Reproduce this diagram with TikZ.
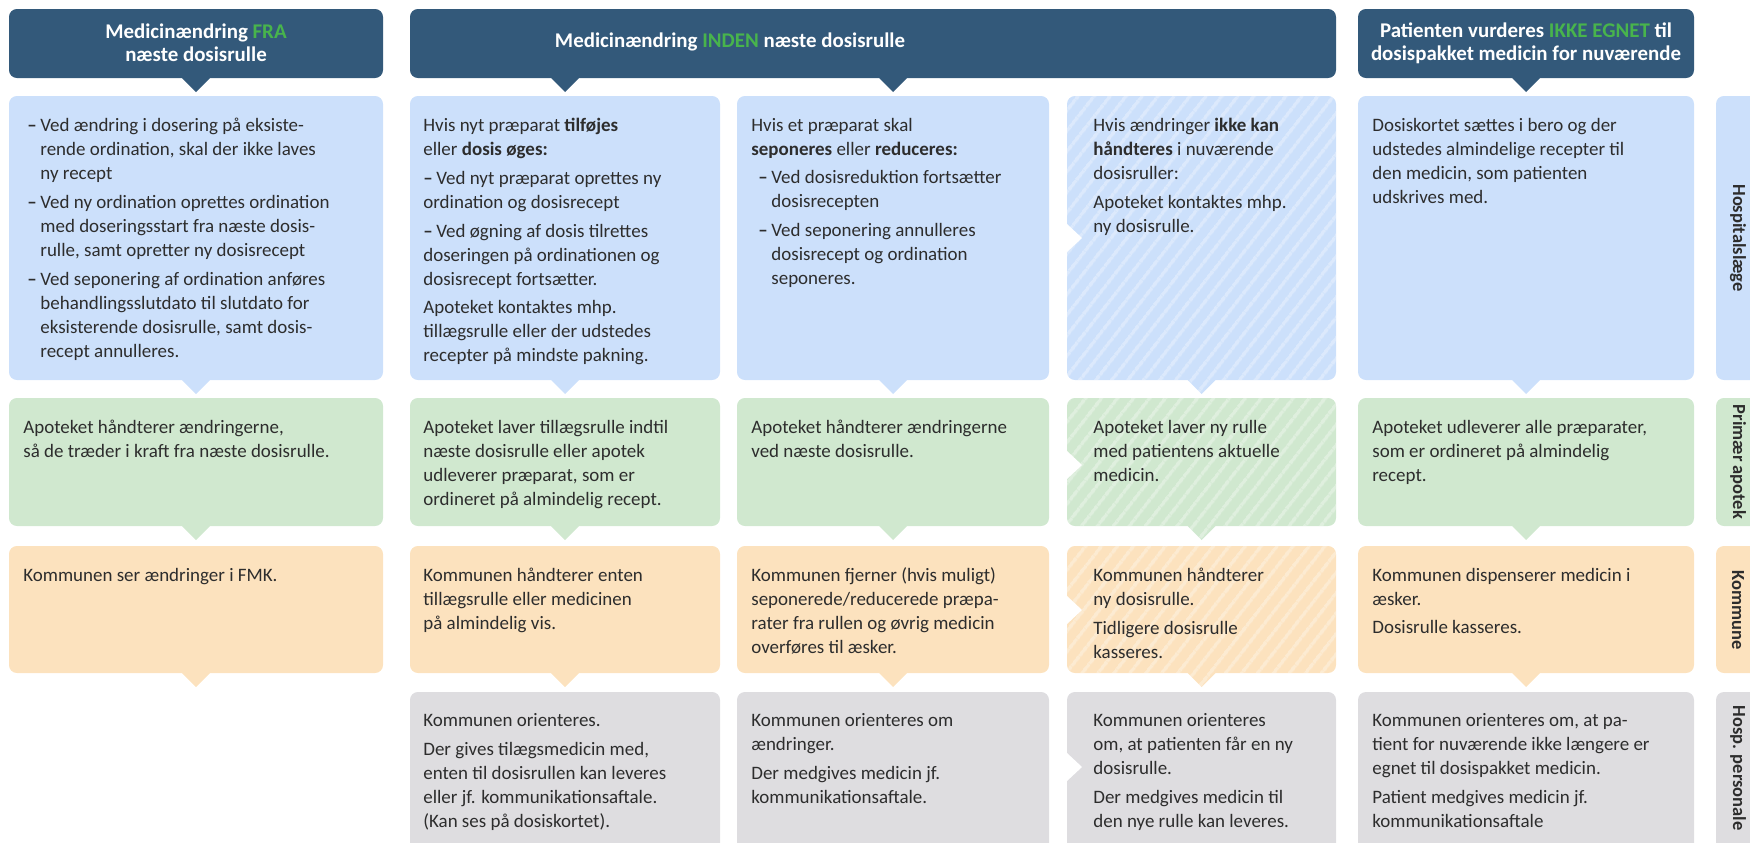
\documentclass[tikz,border=0pt]{standalone}
\usepackage{fontspec}
\setmainfont{Carlito}
\usetikzlibrary{patterns.meta}

\definecolor{hdrcol}{RGB}{51,89,122}
\definecolor{accent}{RGB}{72,180,76}
\definecolor{cblue}{RGB}{204,224,251}
\definecolor{cgreen}{RGB}{208,232,207}
\definecolor{corange}{RGB}{252,226,190}
\definecolor{cgrey}{RGB}{222,221,224}
\definecolor{txtcol}{RGB}{45,45,45}

\newcommand{\bodyfont}{\fontsize{10.8pt}{13.66pt}\selectfont}
\newcommand{\hl}[1]{\textcolor{accent}{#1}}
\newcommand{\dsh}{\makebox[7.4pt][l]{\textbf{–}}}

\tikzset{
  txt/.style={anchor=north west,inner sep=0pt,align=left,font=\bodyfont,text=txtcol},
  hdrtxt/.style={inner sep=0pt,align=center,font=\bfseries\fontsize{11.9pt}{13.1pt}\selectfont,text=white},
  labtxt/.style={inner sep=0pt,rotate=-90,font=\bfseries\fontsize{10.5pt}{12pt}\selectfont,text=txtcol},
  hatch/.style={pattern={Lines[angle=52,distance=7.4pt,line width=2pt]},pattern color=white,fill opacity=0.32}
}

\begin{document}
\begin{tikzpicture}[x=0.02cm,y=-0.02cm]
\useasboundingbox (0,0) rectangle (1750,842);
\clip (0,0) rectangle (1750,842);
% headers
\fill[hdrcol,rounded corners=4.5pt] (9,9) rectangle (383,78)
  [sharp corners] (182,78) -- (196,92) -- (210,78) -- cycle;
\fill[hdrcol,rounded corners=4.5pt] (410,9) rectangle (1336,78)
  [sharp corners] (551,78) -- (565,92) -- (579,78) -- cycle
  (879,78) -- (893,92) -- (907,78) -- cycle;
\fill[hdrcol,rounded corners=4.5pt] (1358,9) rectangle (1694,78)
  [sharp corners] (1512,78) -- (1526,92) -- (1540,78) -- cycle;
\node[hdrtxt] (h1) at (196,43) {Medicinændring \hl{FRA}\\næste dosisrulle};
\node[hdrtxt] (h2) at (730,42) {Medicinændring \hl{INDEN} næste dosisrulle};
\node[hdrtxt] (h3) at (1526,43) {Patienten vurderes \hl{IKKE EGNET} til\\dosispakket medicin for nuværende};
% boxes
\foreach \xa/\xb in {9/383,410/720,737/1049,1067/1336,1358/1694}
  \foreach \ya/\yb/\cl in {96/380/cblue,398/526/cgreen,546/673/corange}
    \fill[\cl,rounded corners=4.5pt] (\xa,\ya) rectangle (\xb,\yb)
      [sharp corners] ({(\xa+\xb)/2-14},\yb) -- ({(\xa+\xb)/2},\yb+14) -- ({(\xa+\xb)/2+14},\yb) -- cycle;
\foreach \xa/\xb in {410/720,737/1049,1067/1336,1358/1694}
  \fill[cgrey,rounded corners=4.5pt] (\xa,692) rectangle (\xb,870);
\foreach \ya/\yb in {96/380,398/526,546/673}
  \fill[hatch,rounded corners=4.5pt] (1067,\ya) rectangle (1336,\yb)
    [sharp corners] (1187,\yb) -- (1201,\yb+14) -- (1215,\yb) -- cycle;
\foreach \yc in {238,465,610,767}
  \fill[white] (1055,\yc-14) -- (1067,\yc-14) -- (1082,\yc) -- (1067,\yc+14) -- (1055,\yc+14) -- cycle;
% row labels
\foreach \ya/\yb/\yc/\cl/\tx [count=\i] in {96/380/238/cblue/Hospitalslæge,398/526/462/cgreen/Primær apotek,
    546/673/610/corange/Kommune,692/870/768/cgrey/Hosp. personale}{
  \fill[\cl,rounded corners=4.5pt] (1716,\ya) rectangle (1790,\yb);
  \node[labtxt] (lab\i) at (1738,\yc) {\tx};
}
% Hospitalslæge
\node[txt] (hosp1) at (23,117.5) {\hspace*{2.3pt}\dsh Ved ændring i dosering på eksiste-\\
  \hspace*{9.7pt}rende ordination, skal der ikke laves\\
  \hspace*{9.7pt}ny recept\\[2.8pt]
  \hspace*{2.3pt}\dsh Ved ny ordination oprettes ordination\\
  \hspace*{9.7pt}med doseringsstart fra næste dosis-\\
  \hspace*{9.7pt}rulle, samt opretter ny dosisrecept\\[2.8pt]
  \hspace*{2.3pt}\dsh Ved seponering af ordination anføres\\
  \hspace*{9.7pt}behandlingsslutdato til slutdato for\\
  \hspace*{9.7pt}eksisterende dosisrulle, samt dosis-\\
  \hspace*{9.7pt}recept annulleres.};
\node[txt] (hosp2) at (423,117.5) {Hvis nyt præparat \textbf{tilføjes}\\
  eller \textbf{dosis øges:}\\[2.8pt]
  \dsh Ved nyt præparat oprettes ny\\
  ordination og dosisrecept\\[2.8pt]
  \dsh Ved øgning af dosis tilrettes\\
  doseringen på ordinationen og\\
  dosisrecept fortsætter.\\[2.8pt]
  Apoteket kontaktes mhp.\\
  tillægsrulle eller der udstedes\\
  recepter på mindste pakning.};
\node[txt] (hosp3) at (751,117.5) {Hvis et præparat skal\\
  \textbf{seponeres} eller \textbf{reduceres:}\\[2.8pt]
  \hspace*{4pt}\dsh Ved dosisreduktion fortsætter\\
  \hspace*{11.4pt}dosisrecepten\\[2.8pt]
  \hspace*{4pt}\dsh Ved seponering annulleres\\
  \hspace*{11.4pt}dosisrecept og ordination\\
  \hspace*{11.4pt}seponeres.};
\node[txt] (hosp4) at (1093,117.5) {Hvis ændringer \textbf{ikke kan}\\
  \textbf{håndteres} i nuværende\\
  dosisruller:\\[2.8pt]
  Apoteket kontaktes mhp.\\
  ny dosisrulle.};
\node[txt] (hosp5) at (1372,117.5) {Dosiskortet sættes i bero og der\\
  udstedes almindelige recepter til\\
  den medicin, som patienten\\
  udskrives med.};
% Primær apotek
\node[txt] (apo1) at (23,419.5) {Apoteket håndterer ændringerne,\\så de træder i kraft fra næste dosisrulle.};
\node[txt] (apo2) at (423,419.5) {Apoteket laver tillægsrulle indtil\\næste dosisrulle eller apotek\\udleverer præparat, som er\\ordineret på almindelig recept.};
\node[txt] (apo3) at (751,419.5) {Apoteket håndterer ændringerne\\ved næste dosisrulle.};
\node[txt] (apo4) at (1093,419.5) {Apoteket laver ny rulle\\med patientens aktuelle\\medicin.};
\node[txt] (apo5) at (1372,419.5) {Apoteket udleverer alle præparater,\\som er ordineret på almindelig\\recept.};
% Kommune
\node[txt] (kom1) at (23,567.5) {Kommunen ser ændringer i FMK.};
\node[txt] (kom2) at (423,567.5) {Kommunen håndterer enten\\tillægsrulle eller medicinen\\på almindelig vis.};
\node[txt] (kom3) at (751,567.5) {Kommunen fjerner (hvis muligt)\\seponerede/reducerede præpa-\\rater fra rullen og øvrig medicin\\overføres til æsker.};
\node[txt] (kom4) at (1093,567.5) {Kommunen håndterer\\ny dosisrulle.\\[2.8pt]Tidligere dosisrulle\\kasseres.};
\node[txt] (kom5) at (1372,567.5) {Kommunen dispenserer medicin i\\æsker.\\[2.8pt]Dosisrulle kasseres.};
% Hosp. personale
\node[txt] (pers2) at (423,713.5) {Kommunen orienteres.\\[2.8pt]Der gives tilægsmedicin med,\\enten til dosisrullen kan leveres\\eller jf. kommunikationsaftale.\\(Kan ses på dosiskortet).};
\node[txt] (pers3) at (751,713.5) {Kommunen orienteres om\\ændringer.\\[2.8pt]Der medgives medicin jf.\\kommunikationsaftale.};
\node[txt] (pers4) at (1093,713.5) {Kommunen orienteres\\om, at patienten får en ny\\dosisrulle.\\[2.8pt]Der medgives medicin til\\den nye rulle kan leveres.};
\node[txt] (pers5) at (1372,713.5) {Kommunen orienteres om, at pa-\\tient for nuværende ikke længere er\\egnet til dosispakket medicin.\\[2.8pt]Patient medgives medicin jf.\\kommunikationsaftale};
\end{tikzpicture}
\end{document}
